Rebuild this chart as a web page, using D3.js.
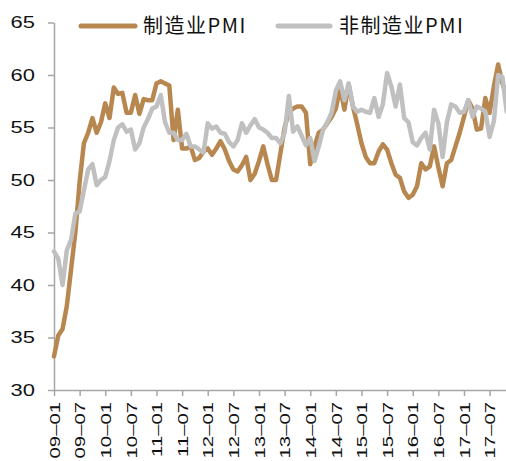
<!DOCTYPE html>
<html>
<head>
<meta charset="utf-8">
<script src="https://cdn.jsdelivr.net/npm/d3@7/dist/d3.min.js"></script>
<style>
  html, body { margin: 0; padding: 0; background: #fff; overflow: hidden; }
  svg { display: block; }
</style>
</head>
<body>
<svg id="chart" width="506" height="461"></svg>
<script>
// Monthly PMI readings, starting 2009-01
const startMonth = "2009-01";
const manufacturing = [
  33.2, 35.2, 35.8, 38.0, 41.5, 45.0, 49.8, 53.5, 54.5, 55.9,
  54.5, 55.5, 57.3, 55.9, 58.8, 58.2, 58.3, 56.4, 56.4, 58.1,
  56.3, 57.7, 57.6, 57.6, 59.2, 59.4, 59.2, 59.0, 53.8, 56.7,
  53.0, 53.0, 53.2, 51.9, 52.1, 52.7, 53.0, 52.4, 53.0, 53.7,
  52.9, 51.8, 51.0, 50.8, 51.4, 52.2, 50.0, 50.6, 51.8, 53.2,
  51.5, 50.0, 50.0, 52.5, 55.0, 56.5, 56.8, 57.0, 57.0, 56.4,
  51.5, 53.2, 54.5, 54.8, 55.4, 56.0, 56.8, 58.8, 56.7, 59.1,
  57.0, 55.3, 53.5, 52.2, 51.6, 51.6, 52.7, 53.4, 52.9, 51.6,
  50.5, 50.2, 48.9, 48.3, 48.6, 49.4, 51.6, 51.0, 51.3, 53.2,
  51.2, 49.4, 51.6, 51.9, 53.2, 54.5, 56.0, 57.6, 56.8, 54.8,
  54.9, 57.8, 56.4, 58.9, 61.0, 59.2, 58.0
];
const nonManufacturing = [
  43.2, 42.5, 40.0, 43.3, 44.3, 46.8, 47.0, 49.0, 51.0, 51.5,
  49.5, 50.0, 50.3, 51.8, 53.8, 55.0, 55.3, 54.6, 54.8, 52.9,
  53.5, 55.0, 55.8, 56.8, 57.0, 58.1, 55.5, 54.5, 54.5, 53.8,
  53.8, 54.4, 53.2, 53.2, 52.9, 52.6, 55.4, 54.9, 55.1, 54.5,
  54.4, 53.6, 53.2, 53.8, 55.4, 54.5, 55.2, 55.8, 55.0, 54.8,
  54.5, 54.0, 54.0, 53.5, 54.5, 58.0, 54.6, 55.1, 54.2, 53.3,
  54.0, 51.8, 53.2, 54.8, 55.5, 56.4, 58.5, 59.4, 57.6, 59.2,
  57.0, 56.5, 56.7, 56.5, 56.4, 57.8, 56.0, 57.2, 60.2, 58.9,
  57.0, 59.1, 55.9, 55.5, 53.6, 53.3, 54.0, 54.5, 52.9, 56.7,
  55.4, 52.2, 55.5, 57.2, 57.0, 56.4, 56.5, 57.6, 56.0, 57.0,
  56.8, 56.5, 54.1, 55.6, 60.0, 59.8, 56.5
];
const seriesNames = ["制造业PMI", "非制造业PMI"];
const seriesColors = ["#B8874F", "#C0C0C0"];
const xTickLabels = [
  "09–01", "09–07", "10–01", "10–07", "11–01", "11–07", "12–01", "12–07", "13–01",
  "13–07", "14–01", "14–07", "15–01", "15–07", "16–01", "16–07", "17–01", "17–07"
];
const yTicks = [30, 35, 40, 45, 50, 55, 60, 65];

const svg = d3.select("#chart");
const axisColor = "#A6A6A6";

// month index -> horizontal position; one tick every six months
const x = d3.scaleLinear().domain([0, 102]).range([54, 489.6]);
const y = d3.scaleLinear().domain([30, 65]).range([390, 22.5]);

// y axis
const yAxis = svg.append("g")
  .attr("transform", `translate(${x(0)},0)`)
  .call(d3.axisLeft(y).tickValues(yTicks).tickSize(6).tickSizeOuter(0));
yAxis.select(".domain").attr("stroke", axisColor).attr("stroke-width", 1.5);
yAxis.selectAll(".tick line").attr("stroke", axisColor).attr("stroke-width", 1.5);
yAxis.selectAll(".tick text")
  .attr("x", 0)
  .attr("transform", "translate(-19,0) scale(1.33,1)")
  .attr("fill", "#111")
  .style("font-family", "'Liberation Sans', Arial, sans-serif")
  .style("font-size", "16.5px");

// x axis, reaching past the right edge
const xAxisScale = x.copy().domain([0, 106]).range([x(0), x(106)]);
const xAxis = svg.append("g")
  .attr("transform", `translate(0,${y(30)})`)
  .call(d3.axisBottom(xAxisScale)
    .tickValues(xTickLabels.map((_, i) => i * 6))
    .tickFormat((d, i) => xTickLabels[i])
    .tickSize(6).tickSizeOuter(0));
xAxis.select(".domain").attr("stroke", axisColor).attr("stroke-width", 1.5);
xAxis.selectAll(".tick line").attr("stroke", axisColor).attr("stroke-width", 1.5);
xAxis.selectAll(".tick text")
  .attr("x", 0).attr("y", 0).attr("dy", "0.36em")
  .attr("text-anchor", "end")
  .attr("transform", "translate(0,12) rotate(-90) scale(1.4,1)")
  .attr("fill", "#111")
  .style("font-family", "'Liberation Sans', Arial, sans-serif")
  .style("font-size", "14.5px");

// lines: non-manufacturing drawn over manufacturing
const line = d3.line().x(d => x(d[0])).y(d => y(d[1]));
const seriesData = [manufacturing, nonManufacturing];
seriesData.forEach((vals, s) => {
  svg.append("path")
    .datum(vals.map((v, i) => [i, v]))
    .attr("fill", "none")
    .attr("stroke", seriesColors[s])
    .attr("stroke-width", 4.5)
    .attr("stroke-linejoin", "round")
    .attr("stroke-linecap", "round")
    .attr("d", line);
});

// legend
const legendPos = [{ x1: 81, x2: 135, tx: 143 }, { x1: 278, x2: 330, tx: 339 }];
legendPos.forEach((p, s) => {
  const g = svg.append("g");
  g.append("line")
    .attr("x1", p.x1).attr("x2", p.x2).attr("y1", 26).attr("y2", 26)
    .attr("stroke", seriesColors[s]).attr("stroke-width", 5)
    .attr("stroke-linecap", "round");
  g.append("text")
    .attr("x", p.tx).attr("y", 33)
    .attr("fill", "#111")
    .style("font-family", "'Noto Sans CJK SC', sans-serif")
    .style("font-size", "20px")
    .style("letter-spacing", "1.5px")
    .text(seriesNames[s]);
});
</script>
</body>
</html>
